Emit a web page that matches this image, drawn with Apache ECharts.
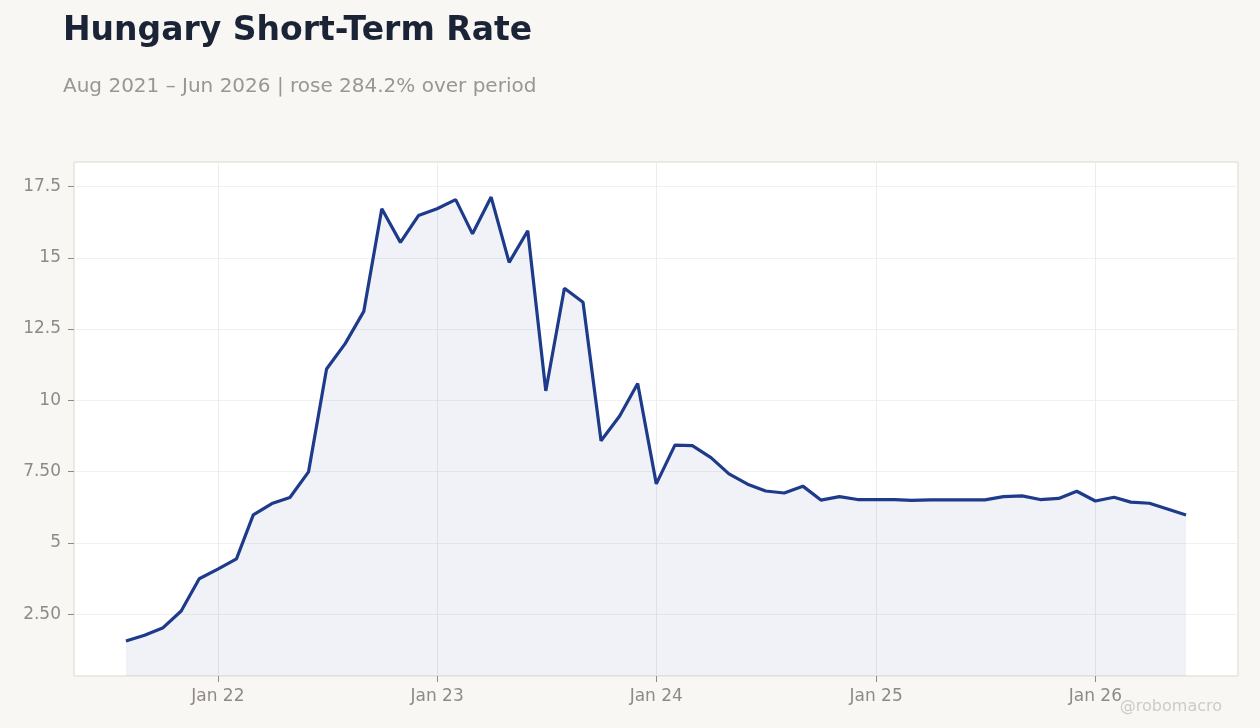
<!DOCTYPE html>
<html>
<head>
<meta charset="utf-8">
<script src="https://cdn.jsdelivr.net/npm/echarts@6/dist/echarts.min.js"></script>
<style>
  html, body {margin: 0; padding: 0; background: #f8f7f4;}
  #chart {width: 1260px; height: 728px;}
</style>
</head>
<body>
<div id="chart"></div>
<script>
// monthly short-term rate, Aug 2021 .. Jun 2026
var months = [
  '2021-08', '2021-09', '2021-10', '2021-11', '2021-12',
  '2022-01', '2022-02', '2022-03', '2022-04', '2022-05', '2022-06',
  '2022-07', '2022-08', '2022-09', '2022-10', '2022-11', '2022-12',
  '2023-01', '2023-02', '2023-03', '2023-04', '2023-05', '2023-06',
  '2023-07', '2023-08', '2023-09', '2023-10', '2023-11', '2023-12',
  '2024-01', '2024-02', '2024-03', '2024-04', '2024-05', '2024-06',
  '2024-07', '2024-08', '2024-09', '2024-10', '2024-11', '2024-12',
  '2025-01', '2025-02', '2025-03', '2025-04', '2025-05', '2025-06',
  '2025-07', '2025-08', '2025-09', '2025-10', '2025-11', '2025-12',
  '2026-01', '2026-02', '2026-03', '2026-04', '2026-05', '2026-06'
];
var rates = [
  1.56, 1.76, 2.01, 2.61, 3.74,
  4.08, 4.44, 5.98, 6.38, 6.59, 7.49,
  11.10, 11.99, 13.12, 16.72, 15.54, 16.48,
  16.72, 17.04, 15.84, 17.13, 14.84, 15.95,
  10.33, 13.93, 13.44, 8.58, 9.45, 10.59,
  7.07, 8.43, 8.41, 7.99, 7.42, 7.06,
  6.82, 6.75, 6.99, 6.50, 6.62, 6.52,
  6.52, 6.52, 6.49, 6.51, 6.51, 6.51,
  6.51, 6.62, 6.65, 6.52, 6.56, 6.81,
  6.47, 6.60, 6.43, 6.39, 6.19, 5.98
];
var yTicks = [2.5, 5, 7.5, 10, 12.5, 15, 17.5];
var xTickLabels = ['2022-01', '2023-01', '2024-01', '2025-01', '2026-01'];

function ts(m) {
  var p = m.split('-');
  return Date.UTC(+p[0], +p[1] - 1, 1);
}
var MON = ['Jan','Feb','Mar','Apr','May','Jun','Jul','Aug','Sep','Oct','Nov','Dec'];

var seriesData = months.map(function (m, i) { return [ts(m), rates[i]]; });

var xFirst = ts(months[0]), xLast = ts(months[months.length - 1]);
var xPad = (xLast - xFirst) * 0.049;
var yLo = Math.min.apply(null, rates), yHi = Math.max.apply(null, rates);
var yPad = (yHi - yLo) * 0.079;

var chart = echarts.init(document.getElementById('chart'));
chart.setOption({
  backgroundColor: '#f8f7f4',
  animation: false,
  textStyle: {fontFamily: 'DejaVu Sans'},
  title: [{
    text: 'Hungary Short-Term Rate',
    left: 58,
    top: 10,
    textStyle: {fontSize: 33, fontWeight: 'bold', color: '#1b2436'}
  }, {
    text: 'Aug 2021 – Jun 2026 | rose 284.2% over period',
    left: 58,
    top: 72,
    textStyle: {fontSize: 20, fontWeight: 'normal', color: '#9a9691'}
  }],
  grid: {
    left: 74, right: 22, top: 162, bottom: 52,
    show: true,
    backgroundColor: '#ffffff',
    borderColor: '#ddd7ce',
    borderWidth: 1
  },
  xAxis: {
    type: 'value',
    min: xFirst - xPad,
    max: xLast + xPad,
    axisLine: {show: false},
    axisTick: {
      show: true, length: 6, lineStyle: {color: '#8f8a85'},
      customValues: xTickLabels.map(ts)
    },
    axisLabel: {
      customValues: xTickLabels.map(ts),
      color: '#8f8a85', fontSize: 17, margin: 12,
      formatter: function (v) {
        var d = new Date(v);
        return MON[d.getUTCMonth()] + ' ' + String(d.getUTCFullYear()).slice(2);
      }
    },
    splitLine: {show: true, lineStyle: {color: '#ececec', width: 1}}
  },
  yAxis: {
    type: 'value',
    min: yLo - yPad,
    max: yHi + yPad,
    axisLine: {show: false},
    axisTick: {
      show: true, length: 6, lineStyle: {color: '#8f8a85'},
      customValues: yTicks
    },
    axisLabel: {
      customValues: yTicks,
      color: '#8f8a85', fontSize: 17, margin: 13,
      formatter: function (v) {
        if (Math.round(v) === v) return String(v);
        return v < 10 ? v.toFixed(2) : v.toFixed(1);
      }
    },
    splitLine: {show: true, lineStyle: {color: '#f0f0f0', width: 1}}
  },
  series: [{
    type: 'line',
    data: seriesData,
    showSymbol: false,
    lineStyle: {color: '#1e3a8a', width: 3.2},
    itemStyle: {color: '#1e3a8a'},
    areaStyle: {color: 'rgba(30, 58, 138, 0.095)'}
  }],
  graphic: [{
    type: 'text',
    right: 38,
    bottom: 13,
    style: {
      text: '@robomacro',
      fill: '#cfcbc6',
      font: '16px "DejaVu Sans"'
    }
  }]
});
</script>
</body>
</html>
